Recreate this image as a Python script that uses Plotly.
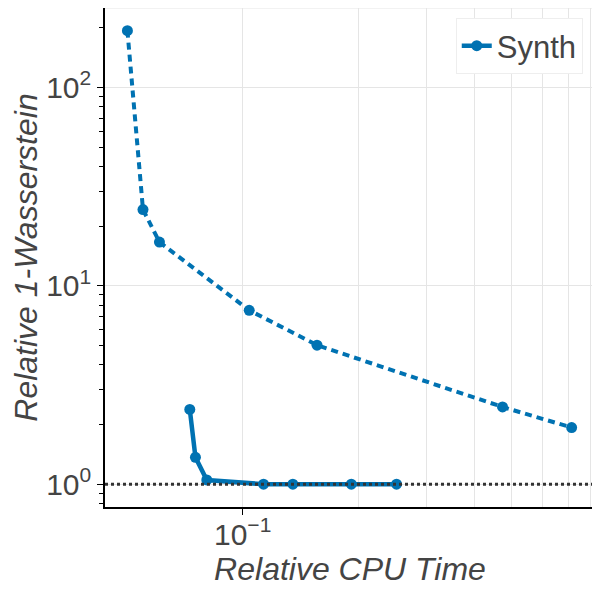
import plotly.graph_objects as go

# relative cpu time vs relative 1-wasserstein, two runs of Synth
cpu_dashed = [0.0502, 0.0551, 0.0608, 0.104, 0.156, 0.473, 0.715]
w1_dashed = [193, 24.2, 16.6, 7.52, 5.02, 2.45, 1.93]

cpu_solid = [0.0729, 0.0754, 0.0807, 0.1133, 0.135, 0.1915, 0.251]
w1_solid = [2.38, 1.365, 1.05, 1.0, 1.0, 1.0, 1.0]

baseline = 1.0

x_ticks = [0.1]
x_ticklabels = ["10<sup>\u22121</sup>"]
x_grid = [0.2, 0.3, 0.4, 0.5, 0.6, 0.7, 0.8]
y_ticks = [1, 10, 100]
y_ticklabels = ["10<sup>0</sup>", "10<sup>1</sup>", "10<sup>2</sup>"]
y_minor = [0.8, 0.9, 2, 3, 4, 5, 6, 7, 8, 9,
           20, 30, 40, 50, 60, 70, 80, 90, 200]

blue = "#0072B2"
grid = "#e5e5e5"
fam = "Liberation Sans, Arial"

fig = go.Figure()
fig.add_trace(go.Scatter(x=cpu_dashed, y=w1_dashed, mode="lines+markers",
                         name="Synth", showlegend=False,
                         line=dict(color=blue, width=4, dash="7px,5px"),
                         marker=dict(size=11, color=blue)))
fig.add_trace(go.Scatter(x=cpu_solid, y=w1_solid, mode="lines+markers",
                         name="Synth",
                         line=dict(color=blue, width=4.5),
                         marker=dict(size=11, color=blue)))
fig.add_hline(y=baseline, line=dict(color="#333333", width=3, dash="dot"),
              layer="above")
# faint frame along the top edge
fig.add_shape(type="line", xref="paper", yref="paper", x0=0, x1=1, y0=1, y1=1,
              line=dict(color=grid, width=1), layer="below")

fig.update_layout(
    width=600, height=600,
    template="plotly_white",
    margin=dict(l=97, r=13, t=0, b=101),
    font=dict(family=fam, size=30, color="#444444"),
    legend=dict(x=0.975, y=0.98, xanchor="right", yanchor="top",
                bgcolor="white", bordercolor="#eeeeee", borderwidth=1,
                font=dict(family=fam, size=31, color="#444444")),
    xaxis=dict(type="log", range=[-1.3575, -0.085], automargin=False,
               title=dict(text="<i>Relative CPU Time</i>", standoff=4,
                          font=dict(family=fam, size=32, color="#444444")),
               tickvals=x_ticks, ticktext=x_ticklabels,
               tickfont=dict(family=fam, size=30, color="#444444"),
               ticklabelstandoff=-6,
               ticks="outside", ticklen=6, tickcolor="black",
               showline=True, linecolor="black", linewidth=1.5,
               showgrid=True, gridcolor=grid, zeroline=False,
               minor=dict(tickvals=x_grid, showgrid=True, gridcolor=grid,
                          ticks="")),
    yaxis=dict(type="log", range=[-0.115, 2.40], automargin=False,
               title=dict(text="<i>Relative 1-Wasserstein</i>", standoff=2,
                          font=dict(family=fam, size=32, color="#444444")),
               tickvals=y_ticks, ticktext=y_ticklabels,
               tickfont=dict(family=fam, size=30, color="#444444"),
               ticks="outside", ticklen=6, tickcolor="black",
               showline=True, linecolor="black", linewidth=1.5,
               showgrid=True, gridcolor=grid, zeroline=False,
               minor=dict(tickvals=y_minor, ticks="outside", ticklen=4,
                          tickcolor="black", showgrid=False)),
)

fig.write_html("out.html")
